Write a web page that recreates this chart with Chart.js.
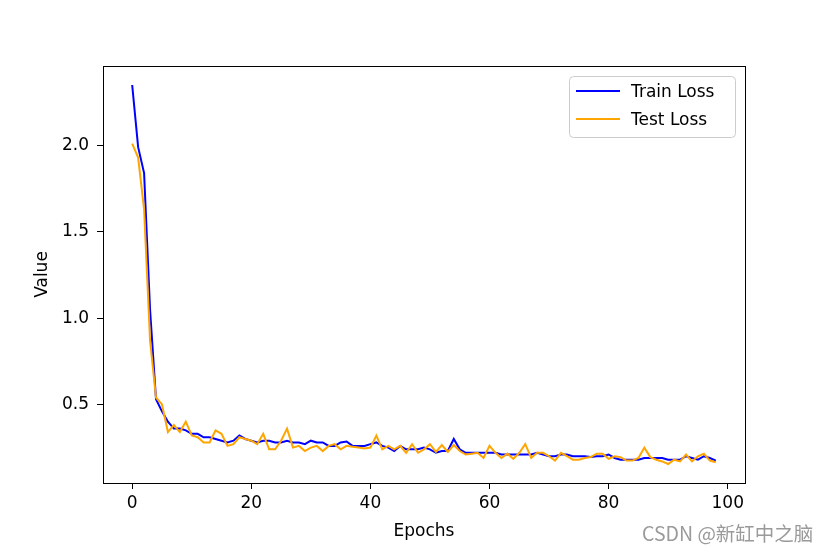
<!DOCTYPE html>
<html>
<head>
<meta charset="utf-8">
<script src="https://cdn.jsdelivr.net/npm/chart.js@4/dist/chart.umd.min.js"></script>
<style>
  body { margin: 0; background: #fff; }
  #wrap { position: relative; width: 828px; height: 552px; }
  #mark {
    position: absolute; left: 642px; top: 518px;
    font-family: "Noto Sans CJK SC", "DejaVu Sans", sans-serif;
    font-size: 19.5px; color: #9a9a9a; white-space: nowrap;
  }
</style>
</head>
<body>
<div id="wrap">
  <canvas id="lossChart" width="828" height="552"></canvas>
  <div id="mark">CSDN @新缸中之脑</div>
</div>
<script>
// values, one per epoch (0..98)
var train_loss = [
  2.35, 1.99, 1.84, 1.05, 0.53, 0.46, 0.40, 0.36, 0.36, 0.35,
  0.33, 0.33, 0.31, 0.31, 0.30, 0.29, 0.28, 0.29, 0.32, 0.30,
  0.29, 0.28, 0.29, 0.29, 0.28, 0.28, 0.29, 0.28, 0.28, 0.27,
  0.29, 0.28, 0.28, 0.26, 0.26, 0.28, 0.285, 0.26, 0.26, 0.26,
  0.27, 0.28, 0.26, 0.25, 0.23, 0.26, 0.24, 0.24, 0.24, 0.25,
  0.24, 0.22, 0.23, 0.23, 0.30, 0.24, 0.22, 0.22, 0.22, 0.22,
  0.22, 0.22, 0.21, 0.21, 0.21, 0.21, 0.21, 0.21, 0.22, 0.21,
  0.20, 0.20, 0.21, 0.21, 0.20, 0.20, 0.20, 0.195, 0.20, 0.20,
  0.21, 0.19, 0.18, 0.18, 0.18, 0.18, 0.19, 0.19, 0.19, 0.19,
  0.18, 0.18, 0.18, 0.20, 0.19, 0.18, 0.20, 0.19, 0.175
];
var test_loss = [
  2.01, 1.93, 1.63, 0.87, 0.54, 0.50, 0.34, 0.38, 0.34, 0.40,
  0.32, 0.31, 0.28, 0.28, 0.35, 0.33, 0.26, 0.27, 0.31, 0.30,
  0.29, 0.27, 0.33, 0.24, 0.24, 0.29, 0.36, 0.25, 0.26, 0.23,
  0.25, 0.26, 0.23, 0.26, 0.27, 0.24, 0.26, 0.255, 0.25, 0.245,
  0.25, 0.32, 0.24, 0.26, 0.24, 0.26, 0.22, 0.27, 0.22, 0.24,
  0.27, 0.225, 0.265, 0.225, 0.265, 0.23, 0.21, 0.215, 0.22, 0.19,
  0.26, 0.22, 0.19, 0.215, 0.185, 0.22, 0.27, 0.19, 0.22, 0.22,
  0.20, 0.175, 0.22, 0.20, 0.18, 0.18, 0.19, 0.195, 0.215, 0.215,
  0.185, 0.20, 0.195, 0.175, 0.175, 0.19, 0.25, 0.195, 0.18, 0.17,
  0.155, 0.18, 0.17, 0.21, 0.17, 0.20, 0.215, 0.175, 0.165
];
var epochs = train_loss.map(function(v, i) { return i; });
var x_ticks = [0, 20, 40, 60, 80, 100];
var y_ticks = [0.5, 1.0, 1.5, 2.0];

var FONT = { family: 'DejaVu Sans', size: 17 };

// black frame round the plot + legend box in the upper right
var framePlugin = {
    id: 'frame',
    afterDraw: function(chart) {
        var ctx = chart.ctx, a = chart.chartArea;
        ctx.save();
        ctx.strokeStyle = '#000';
        ctx.lineWidth = 1;
        ctx.strokeRect(Math.round(a.left) + 0.5, Math.round(a.top) + 0.5,
                       Math.round(a.right - a.left), Math.round(a.bottom - a.top));

        // legend
        var bx = 569.5, by = 76.5, bw = 166, bh = 61, r = 4;
        ctx.beginPath();
        ctx.moveTo(bx + r, by);
        ctx.arcTo(bx + bw, by, bx + bw, by + bh, r);
        ctx.arcTo(bx + bw, by + bh, bx, by + bh, r);
        ctx.arcTo(bx, by + bh, bx, by, r);
        ctx.arcTo(bx, by, bx + bw, by, r);
        ctx.closePath();
        ctx.fillStyle = 'rgba(255,255,255,0.8)';
        ctx.fill();
        ctx.strokeStyle = '#cccccc';
        ctx.stroke();
        ctx.font = FONT.size + 'px ' + FONT.family;
        ctx.textBaseline = 'middle';
        chart.data.datasets.forEach(function(ds, i) {
            var y = 91 + i * 28;
            ctx.strokeStyle = ds.borderColor;
            ctx.lineWidth = 2;
            ctx.beginPath();
            ctx.moveTo(576, y);
            ctx.lineTo(620, y);
            ctx.stroke();
            ctx.fillStyle = '#000';
            ctx.fillText(ds.label, 631, y + 1.5);
        });
        ctx.restore();
    }
};

var ctx = document.getElementById('lossChart').getContext('2d');
var lossChart = new Chart(ctx, {
    type: 'line',
    data: {
        datasets: [{
            label: 'Train Loss',
            data: epochs.map(function(e, i) { return { x: e, y: train_loss[i] }; }),
            borderColor: '#0000ff',
            borderWidth: 2,
            pointRadius: 0,
            tension: 0,
            order: 2
        }, {
            label: 'Test Loss',
            data: epochs.map(function(e, i) { return { x: e, y: test_loss[i] }; }),
            borderColor: '#ffa500',
            borderWidth: 2,
            pointRadius: 0,
            tension: 0,
            order: 1
        }]
    },
    options: {
        responsive: false,
        animation: false,
        layout: { padding: { left: 0, right: 83, top: 66, bottom: 0 } },
        plugins: {
            legend: { display: false },
            tooltip: { enabled: false }
        },
        scales: {
            x: {
                type: 'linear',
                min: -4.9,
                max: 102.9,
                afterBuildTicks: function(s) { s.ticks = x_ticks.map(function(v) { return { value: v }; }); },
                afterFit: function(s) { s.height = 69; },
                ticks: { color: '#000', font: FONT, padding: 4, maxRotation: 0 },
                grid: { drawOnChartArea: false, tickLength: 6, tickColor: '#000', color: '#000' },
                border: { color: '#000' },
                title: { display: true, text: 'Epochs', color: '#000', font: FONT, padding: { top: 0, bottom: 10 } }
            },
            y: {
                min: 0.045,
                max: 2.46,
                afterBuildTicks: function(s) { s.ticks = y_ticks.map(function(v) { return { value: v }; }); },
                afterFit: function(s) { s.width = 103; },
                ticks: {
                    color: '#000', font: FONT, padding: 8,
                    callback: function(v) { return v.toFixed(1); }
                },
                grid: { drawOnChartArea: false, tickLength: 6, tickColor: '#000', color: '#000' },
                border: { color: '#000' },
                title: { display: true, text: 'Value', color: '#000', font: FONT, padding: { top: 32, bottom: 0 } }
            }
        }
    },
    plugins: [framePlugin]
});
</script>
</body>
</html>
